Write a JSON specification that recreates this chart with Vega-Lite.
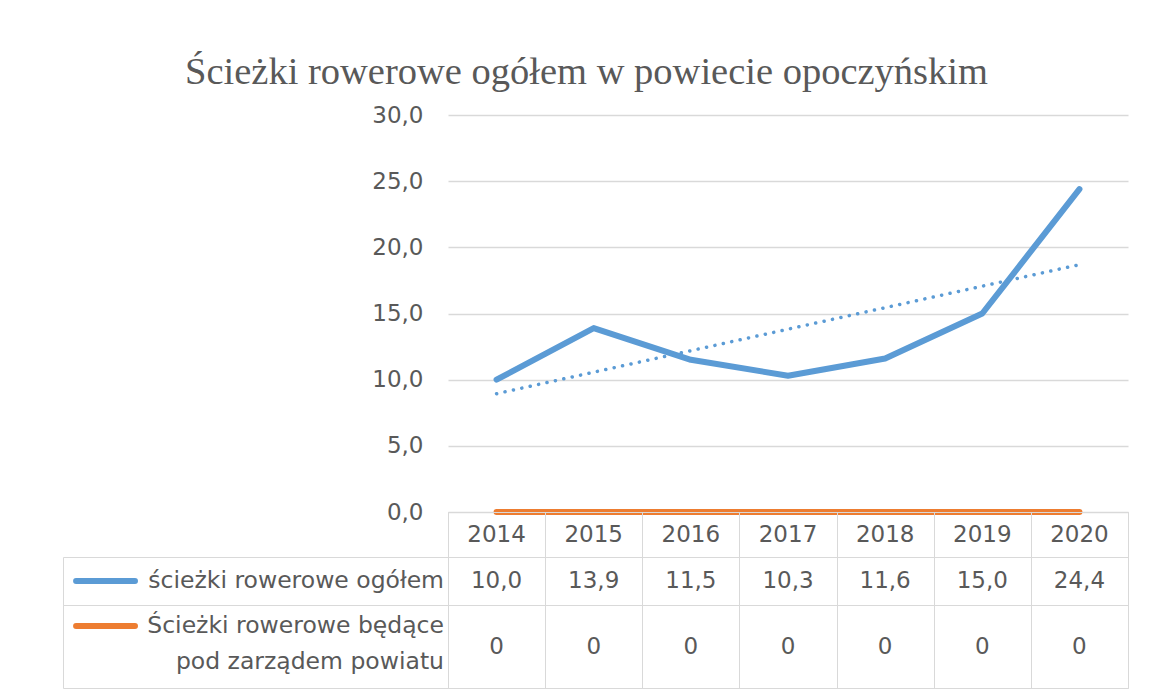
{
  "$schema": "https://vega.github.io/schema/vega-lite/v6.json",
  "padding": {"left": 62, "top": 52, "right": 20, "bottom": 8},
  "background": "white",
  "title": {"text": "Ścieżki rowerowe ogółem w powiecie opoczyńskim", "font": "Liberation Serif", "fontSize": 38.5, "fontWeight": "normal", "color": "#595959", "anchor": "middle", "offset": 12, "dx": -9},
  "datasets": {
    "d": [
      {"year": 2014, "series": "ścieżki rowerowe ogółem", "value": 10.0},
      {"year": 2015, "series": "ścieżki rowerowe ogółem", "value": 13.9},
      {"year": 2016, "series": "ścieżki rowerowe ogółem", "value": 11.5},
      {"year": 2017, "series": "ścieżki rowerowe ogółem", "value": 10.3},
      {"year": 2018, "series": "ścieżki rowerowe ogółem", "value": 11.6},
      {"year": 2019, "series": "ścieżki rowerowe ogółem", "value": 15.0},
      {"year": 2020, "series": "ścieżki rowerowe ogółem", "value": 24.4},
      {"year": 2014, "series": "Ścieżki rowerowe będące pod zarządem powiatu", "value": 0},
      {"year": 2015, "series": "Ścieżki rowerowe będące pod zarządem powiatu", "value": 0},
      {"year": 2016, "series": "Ścieżki rowerowe będące pod zarządem powiatu", "value": 0},
      {"year": 2017, "series": "Ścieżki rowerowe będące pod zarządem powiatu", "value": 0},
      {"year": 2018, "series": "Ścieżki rowerowe będące pod zarządem powiatu", "value": 0},
      {"year": 2019, "series": "Ścieżki rowerowe będące pod zarządem powiatu", "value": 0},
      {"year": 2020, "series": "Ścieżki rowerowe będące pod zarządem powiatu", "value": 0}
    ]
  },
  "columns": 2,
  "spacing": 0,
  "bounds": "flush",
  "concat": [
    {
      "width": 385, "height": 397,
      "data": {"values": [{"t": ""}]},
      "mark": {"type": "text"},
      "encoding": {"text": {"field": "t"}}
    },
    {
      "width": 680, "height": 397,
      "data": {"name": "d"},
      "encoding": {
        "x": {"field": "year", "type": "ordinal", "bandPosition": 0.5, "scale": {"type": "band", "paddingInner": 0, "paddingOuter": 0}, "axis": null}
      },
      "layer": [
        {
          "mark": {"type": "line", "strokeWidth": 6, "strokeCap": "round", "strokeJoin": "round", "clip": false},
          "encoding": {
            "y": {"field": "value", "type": "quantitative", "scale": {"domain": [0, 30]},
              "axis": {"values": [0, 5, 10, 15, 20, 25, 30], "format": ".1f", "grid": true, "gridColor": "#d9d9d9", "gridWidth": 1.3, "domain": false, "ticks": false, "labelPadding": 25, "labelFont": "DejaVu Sans", "labelFontSize": 23, "labelColor": "#595959", "title": null}},
            "color": {"field": "series", "type": "nominal", "scale": {"domain": ["ścieżki rowerowe ogółem", "Ścieżki rowerowe będące pod zarządem powiatu"], "range": ["#5b9bd5", "#ed7d31"]}, "legend": null}
          }
        },
        {
          "transform": [
            {"filter": "datum.series === 'ścieżki rowerowe ogółem'"},
            {"regression": "value", "on": "year"}
          ],
          "mark": {"type": "line", "color": "#5b9bd5", "strokeWidth": 3.5, "strokeDash": [0.1, 8.5], "strokeCap": "round", "clip": false},
          "encoding": {"y": {"field": "value", "type": "quantitative"}}
        }
      ]
    },
    {
      "width": 385, "height": 45,
      "data": {"values": [{"t": ""}]},
      "mark": {"type": "text"},
      "encoding": {"text": {"field": "t"}}
    },
    {
      "width": 680, "height": 45,
      "view": {"stroke": "#d9d9d9"},
      "data": {"name": "d"},
      "transform": [{"filter": "datum.series === 'ścieżki rowerowe ogółem'"}],
      "mark": {"type": "text", "font": "DejaVu Sans", "fontSize": 23, "color": "#595959", "baseline": "middle"},
      "encoding": {
        "x": {"field": "year", "type": "ordinal", "bandPosition": 0.5, "scale": {"type": "band", "paddingInner": 0, "paddingOuter": 0},
          "axis": {"orient": "top", "labels": false, "ticks": false, "domain": false, "grid": true, "gridColor": "#d9d9d9", "tickBand": "extent", "title": null}},
        "text": {"field": "year", "type": "nominal"}
      }
    },
    {
      "width": 385, "height": 48,
      "view": {"stroke": "#d9d9d9"},
      "data": {"values": [{"series": "ścieżki rowerowe ogółem", "label": "ścieżki rowerowe ogółem"}]},
      "encoding": {
        "color": {"field": "series", "type": "nominal", "scale": {"domain": ["ścieżki rowerowe ogółem", "Ścieżki rowerowe będące pod zarządem powiatu"], "range": ["#5b9bd5", "#ed7d31"]}, "legend": null}
      },
      "layer": [
        {
          "mark": {"type": "rule", "strokeWidth": 6, "strokeCap": "round"},
          "encoding": {
            "x": {"datum": 3.4, "type": "quantitative", "scale": {"domain": [0, 100]}, "axis": null},
            "x2": {"datum": 18.7},
            "y": {"datum": 0.5, "type": "quantitative", "scale": {"domain": [0, 1]}, "axis": null}
          }
        },
        {
          "mark": {"type": "text", "font": "DejaVu Sans", "fontSize": 23.5, "color": "#595959", "align": "right", "baseline": "middle", "dx": -4},
          "encoding": {
            "x": {"datum": 100, "type": "quantitative"},
            "y": {"datum": 0.5, "type": "quantitative"},
            "text": {"field": "label"},
            "color": {"value": "#595959"}
          }
        }
      ]
    },
    {
      "width": 680, "height": 48,
      "view": {"stroke": "#d9d9d9"},
      "data": {"name": "d"},
      "transform": [{"filter": "datum.series === 'ścieżki rowerowe ogółem'"}],
      "mark": {"type": "text", "font": "DejaVu Sans", "fontSize": 23, "color": "#595959", "baseline": "middle"},
      "encoding": {
        "x": {"field": "year", "type": "ordinal", "bandPosition": 0.5, "scale": {"type": "band", "paddingInner": 0, "paddingOuter": 0},
          "axis": {"orient": "top", "labels": false, "ticks": false, "domain": false, "grid": true, "gridColor": "#d9d9d9", "tickBand": "extent", "title": null}},
        "text": {"field": "value", "type": "quantitative", "format": ".1f"}
      }
    },
    {
      "width": 385, "height": 83,
      "view": {"stroke": "#d9d9d9"},
      "data": {"values": [{"series": "Ścieżki rowerowe będące pod zarządem powiatu", "label": "Ścieżki rowerowe będące\npod zarządem powiatu"}]},
      "encoding": {
        "color": {"field": "series", "type": "nominal", "scale": {"domain": ["ścieżki rowerowe ogółem", "Ścieżki rowerowe będące pod zarządem powiatu"], "range": ["#5b9bd5", "#ed7d31"]}, "legend": null}
      },
      "layer": [
        {
          "mark": {"type": "rule", "strokeWidth": 6, "strokeCap": "round"},
          "encoding": {
            "x": {"datum": 3.4, "type": "quantitative", "scale": {"domain": [0, 100]}, "axis": null},
            "x2": {"datum": 18.7},
            "y": {"datum": 0.747, "type": "quantitative", "scale": {"domain": [0, 1]}, "axis": null}
          }
        },
        {
          "mark": {"type": "text", "font": "DejaVu Sans", "fontSize": 23.5, "color": "#595959", "align": "right", "baseline": "middle", "dx": -4, "lineBreak": "\n", "lineHeight": 36},
          "encoding": {
            "x": {"datum": 100, "type": "quantitative"},
            "y": {"datum": 0.747, "type": "quantitative"},
            "text": {"field": "label"},
            "color": {"value": "#595959"}
          }
        }
      ]
    },
    {
      "width": 680, "height": 83,
      "view": {"stroke": "#d9d9d9"},
      "data": {"name": "d"},
      "transform": [{"filter": "datum.series === 'Ścieżki rowerowe będące pod zarządem powiatu'"}],
      "mark": {"type": "text", "font": "DejaVu Sans", "fontSize": 23, "color": "#595959", "baseline": "middle"},
      "encoding": {
        "x": {"field": "year", "type": "ordinal", "bandPosition": 0.5, "scale": {"type": "band", "paddingInner": 0, "paddingOuter": 0},
          "axis": {"orient": "top", "labels": false, "ticks": false, "domain": false, "grid": true, "gridColor": "#d9d9d9", "tickBand": "extent", "title": null}},
        "text": {"field": "value", "type": "quantitative", "format": ".0f"}
      }
    }
  ],
  "config": {
    "view": {"stroke": null},
    "locale": {"number": {"decimal": ",", "thousands": " ", "grouping": [3], "currency": ["", " zł"]}}
  }
}
